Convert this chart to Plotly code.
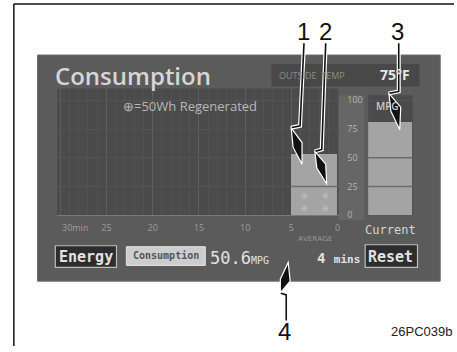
import plotly.graph_objects as go

W, H = 457, 352

# ---------------- data ----------------
minute_mid = [27.5, 22.5, 17.5, 12.5, 7.5, 2.5]      # 5-minute columns (30min ago -> now)
minute_mpg = [0, 0, 0, 0, 0, 53]                      # consumption per 5-min column (MPG)
tick_min = [30, 25, 20, 15, 10, 5, 0]
tick_min_text = ["", "25", "20", "15", "10", "5", "0"]
mpg_ticks = [0, 25, 50, 75, 100]
current_cat = ["Current"]
current_mpg = [81]
regen_x = [3.6, 1.3, 3.6, 1.3]                        # ⊕ regenerated symbols
regen_y = [17, 17, 6, 6]


def fx(x):
    return x / W


def fy(y):
    return 1 - y / H


def path(pts, close=False):
    s = "M " + " L ".join(f"{fx(x):.5f},{fy(y):.5f}" for x, y in pts)
    return s + (" Z" if close else "")


PANEL = "#5b5b5b"
CHART = "#4b4b4b"
FILL = "#a4a4a4"

fig = go.Figure()

fig.add_trace(go.Bar(x=minute_mid, y=minute_mpg, width=5, marker=dict(color=FILL, line=dict(width=0)),
                     xaxis="x", yaxis="y", hoverinfo="skip", showlegend=False))
fig.add_trace(go.Scatter(x=regen_x, y=regen_y, mode="markers", xaxis="x", yaxis="y",
                         marker=dict(symbol="circle-cross-open", size=5, color="#d0d0d0", opacity=0.45),
                         hoverinfo="skip", showlegend=False))
fig.add_trace(go.Bar(x=current_cat, y=current_mpg, width=1, marker=dict(color=FILL, line=dict(width=0)),
                     xaxis="x2", yaxis="y", hoverinfo="skip", showlegend=False))

shapes = []
# frame lines of the figure
shapes.append(dict(type="line", xref="paper", yref="paper", x0=fx(11), x1=fx(11), y0=fy(4), y1=fy(352),
                   line=dict(color="#111", width=1.5), layer="below"))
shapes.append(dict(type="line", xref="paper", yref="paper", x0=fx(11), x1=fx(457), y0=fy(4), y1=fy(4),
                   line=dict(color="#111", width=1.5), layer="below"))
# screen panel
shapes.append(dict(type="rect", xref="paper", yref="paper", x0=fx(35), x1=fx(443), y0=fy(286), y1=fy(56),
                   fillcolor=PANEL, line=dict(color="#6a6a6a", width=1), layer="below"))
# chart area
shapes.append(dict(type="rect", xref="paper", yref="paper", x0=fx(55), x1=fx(340), y0=fy(219), y1=fy(90),
                   fillcolor=CHART, line=dict(width=0), layer="below"))
# y-label column
shapes.append(dict(type="rect", xref="paper", yref="paper", x0=fx(340), x1=fx(366), y0=fy(224), y1=fy(97),
                   fillcolor="#666666", line=dict(width=0), layer="below"))
# current bar box
shapes.append(dict(type="rect", xref="paper", yref="paper", x0=fx(370), x1=fx(415), y0=fy(219), y1=fy(97),
                   fillcolor=CHART, line=dict(width=0), layer="below"))
# outside temp box
shapes.append(dict(type="rect", xref="paper", yref="paper", x0=fx(272), x1=fx(422), y0=fy(88), y1=fy(65),
                   fillcolor="#484848", line=dict(width=0), layer="below"))
# buttons
shapes.append(dict(type="rect", xref="paper", yref="paper", x0=fx(53), x1=fx(115), y0=fy(272), y1=fy(250),
                   fillcolor="#2d2d2d", line=dict(color="#bdbdbd", width=1.2), layer="below"))
shapes.append(dict(type="rect", xref="paper", yref="paper", x0=fx(125), x1=fx(205), y0=fy(270), y1=fy(251),
                   fillcolor="#cdcdcd", line=dict(color="#e6e6e6", width=1), layer="below"))
shapes.append(dict(type="rect", xref="paper", yref="paper", x0=fx(367), x1=fx(420), y0=fy(272), y1=fy(249),
                   fillcolor="#2d2d2d", line=dict(color="#bdbdbd", width=1.2), layer="below"))

# bar level lines (above bars)
shapes.append(dict(type="line", xref="x", yref="y", x0=5, x1=-0.1, y0=25, y1=25,
                   line=dict(color="#6c6c6c", width=1.5), layer="above"))
for lv in (25, 50):
    shapes.append(dict(type="line", xref="x2 domain", yref="y", x0=0, x1=1, y0=lv, y1=lv,
                       line=dict(color="#6c6c6c", width=1.5), layer="above"))

# callout leaders
leaders = [
    ([(305, 44), (301, 128), (292, 130)], [(292, 130), (303, 145), (303, 167), (294, 150)]),
    ([(327, 44), (323, 152), (316, 154)], [(316, 154), (327, 167), (328, 187), (318, 171)]),
    ([(401, 44), (401, 93), (391, 95)], [(391, 95), (403, 109), (402, 132), (393, 113)]),
    ([(287, 326), (287, 300), (281, 298)], [(281, 298), (291, 286), (289, 267), (281, 284)]),
]
for line_pts, head in leaders:
    shapes.append(dict(type="path", xref="paper", yref="paper", path=path(line_pts),
                       line=dict(color="white", width=4), layer="above"))
    shapes.append(dict(type="path", xref="paper", yref="paper", path=path(line_pts),
                       line=dict(color="#111", width=1.6), layer="above"))
    shapes.append(dict(type="path", xref="paper", yref="paper", path=path(head, True),
                       fillcolor="#111", line=dict(color="white", width=1.2), layer="above"))

ann = []


def txt(x, y, s, size, color, family="Open Sans", xanchor="center", weight=None, xref="paper"):
    f = dict(size=size, color=color, family=family)
    if weight:
        f["weight"] = weight
    ann.append(dict(x=fx(x) if xref == "paper" else x, y=fy(y), xref=xref, yref="paper", text=s,
                    showarrow=False, xanchor=xanchor, yanchor="middle", font=f))


txt(51, 77, "Consumption", 24, "#d6d6d6", xanchor="left", weight=600)
txt(278, 77, "OUTSIDE  TEMP", 9, "#8c8c8c", xanchor="left")
txt(380, 76, "75°F", 14, "#e6e6e6", xanchor="left", weight=700)
txt(120, 108, "⊕=50Wh Regenerated", 13, "#b8b8b8", xanchor="left")
txt(376, 108, "MPG", 10, "#cccccc", xanchor="left", weight=600)
txt(30, 231, "30min", 9, "#9c9c9c", xanchor="left", xref="x")
txt(317, 242, "AVERAGE", 8, "#9a9a9a")
txt(84, 261, "Energy", 15, "#e2e2e2", family="DejaVu Sans Mono", weight=700)
txt(165, 260, "Consumption", 10, "#555555", family="DejaVu Sans Mono", weight=700)
txt(208, 262, "50.6<span style='font-size:10px'>MPG</span>", 17, "#e2e2e2",
    family="DejaVu Sans Mono", xanchor="left")
txt(364, 262, "4 <span style='font-size:11px'>mins</span>", 14, "#e2e2e2",
    family="DejaVu Sans Mono", xanchor="right", weight=700)
txt(393, 261, "Reset", 15, "#e2e2e2", family="DejaVu Sans Mono", weight=700)

for s, x, y in [("1", 305, 32), ("2", 327, 32), ("3", 400, 32), ("4", 285, 337)]:
    txt(x, y, s, 24, "#111", family="Liberation Sans")
txt(457, 337, "26PC039b", 13, "#222", family="Liberation Sans", xanchor="right")

fig.update_layout(
    width=W, height=H, autosize=False,
    margin=dict(l=0, r=0, t=0, b=0),
    paper_bgcolor="white", plot_bgcolor="rgba(0,0,0,0)",
    showlegend=False, bargap=0,
    shapes=shapes, annotations=ann,
    xaxis=dict(domain=[fx(55), fx(340)], range=[30.32, -0.1], tickmode="array",
               tickvals=tick_min, ticktext=tick_min_text,
               tickfont=dict(size=9, color="#9c9c9c", family="Open Sans"),
               ticklabelstandoff=4,
               showgrid=True, gridcolor="#5e5e5e", gridwidth=1,
               minor=dict(tick0=0, dtick=1, showgrid=True, gridcolor="#525252", gridwidth=1),
               zeroline=False, showline=True, linecolor="#7a7a7a", linewidth=1,
               ticks="", fixedrange=True, anchor="y"),
    yaxis=dict(domain=[fy(219), fy(90)], range=[0, 110.3], tickmode="array", tickvals=mpg_ticks,
               side="right", anchor="x", ticks="outside", ticklen=6, tickcolor="rgba(0,0,0,0)",
               tickfont=dict(size=9, color="#b4b4b4", family="Open Sans"),
               showgrid=True, gridcolor="#545454", zeroline=False, fixedrange=True),
    xaxis2=dict(domain=[fx(370), fx(415)], anchor="y", type="category", range=[-0.5, 0.5],
                tickfont=dict(size=12, color="#d4d4d4", family="DejaVu Sans Mono"),
                ticklabelstandoff=6,
                showgrid=False, zeroline=False, showline=False, ticks="", fixedrange=True),
)

fig.write_html("out.html", config={"displayModeBar": False},
               post_script="document.body.style.margin='0';document.body.style.overflow='hidden';")
